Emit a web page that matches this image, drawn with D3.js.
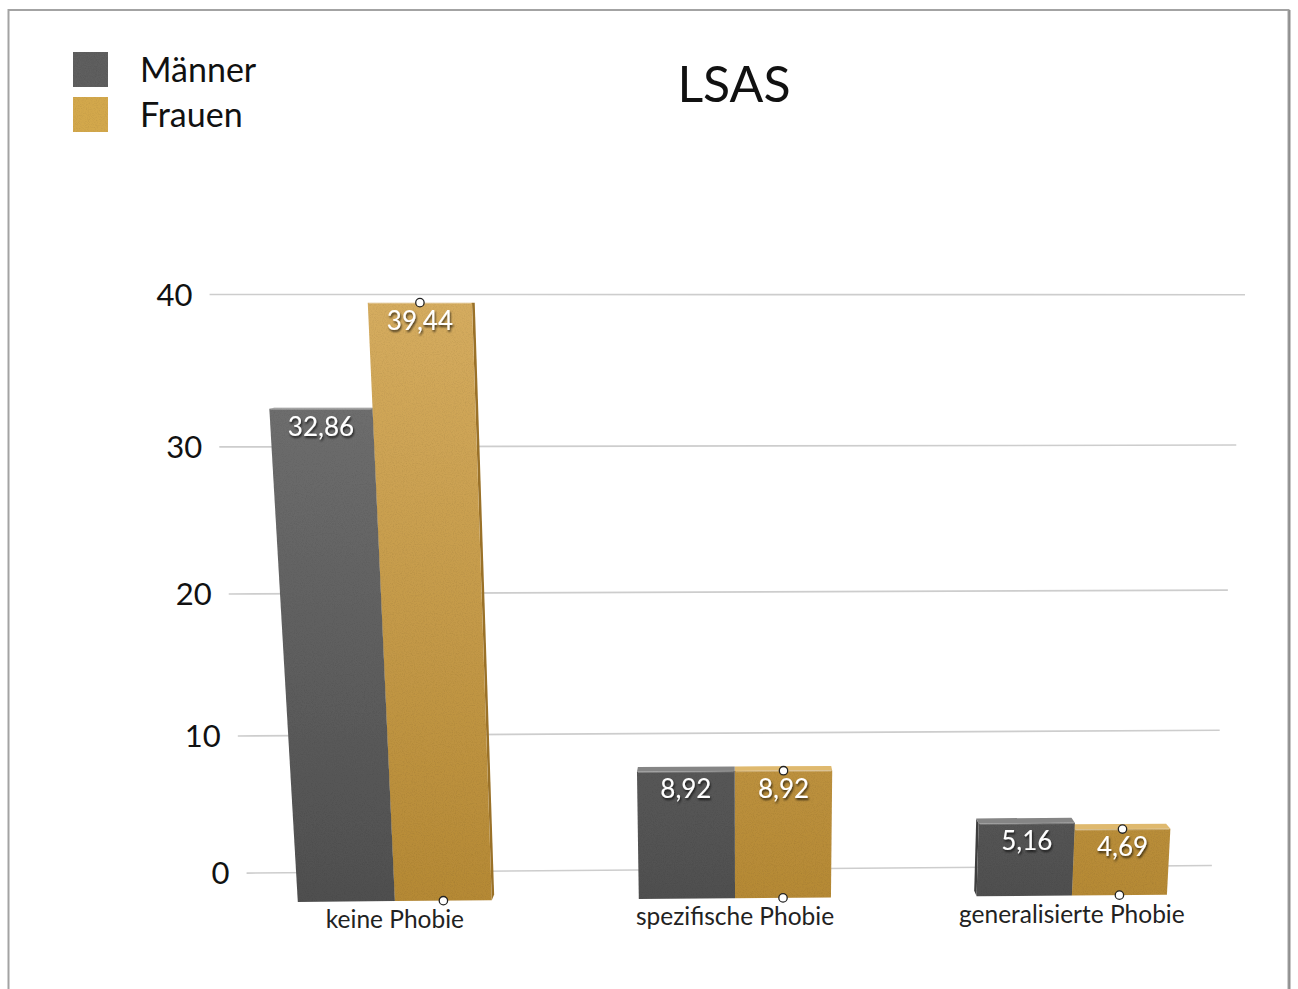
<!DOCTYPE html>
<html>
<head>
<meta charset="utf-8">
<script src="https://cdn.jsdelivr.net/npm/d3@7"></script>
<style>
  html, body { margin: 0; padding: 0; background: #fff; }
  svg { display: block; }
  text { font-family: Lato, "Open Sans", "DejaVu Sans", sans-serif; }
</style>
</head>
<body>
<svg id="chart" width="1298" height="989"></svg>
<script>
// ---- data ----
const categories = ["keine Phobie", "spezifische Phobie", "generalisierte Phobie"];
const seriesNames = ["Männer", "Frauen"];
const maenner = [32.86, 8.92, 5.16];
const frauen = [39.44, 8.92, 4.69];
const yTicks = [0, 10, 20, 30, 40];
const chartTitle = "LSAS";

const seriesValues = { "Männer": maenner, "Frauen": frauen };
const fmt = v => d3.format(".2f")(v).replace(".", ",");

// ---- perspective camera (world: X right, Y up, Z toward viewer; wall at Z = 0) ----
const cam = { f: 1226, cy: 494, pitch: Math.atan(0.148), yaw: -0.0174, dist: 1000, height: 475.6 };
const wallW = 833.4;
const frontZ = 53, backZ = 43;   // bar slab depth in front of the wall

const yScale = d3.scaleLinear().domain([0, 40]).range([0, 489.9]);
const xBand = d3.scaleBand().domain(categories).range([2, wallW + 2])
  .paddingInner(0.4323).paddingOuter(0.2162);
const xSeries = d3.scaleBand().domain(seriesNames).range([0, xBand.bandwidth()]);

const camX = wallW / 2;
const sp = Math.sin(cam.pitch), cp = Math.cos(cam.pitch);
const sw = Math.sin(cam.yaw), cw = Math.cos(cam.yaw);
const right = [cw, 0, -sw];
const up = [-sp * sw, cp, -sp * cw];
const fwd = [-cp * sw, -sp, -cp * cw];
const dot = (a, b) => a[0] * b[0] + a[1] * b[1] + a[2] * b[2];

function rawProject(p) {
  const d = [p[0] - camX, p[1] - cam.height, p[2] - cam.dist];
  const zc = dot(d, fwd);
  return [cam.f * dot(d, right) / zc, cam.cy - cam.f * dot(d, up) / zc];
}
// horizontal image position of the wall centre
const cx = 732.5 - rawProject([wallW / 2, 0, 0])[0];
const project = p => { const q = rawProject(p); return [q[0] + cx, q[1]]; };

// ---- svg ----
const svg = d3.select("#chart");
const defs = svg.append("defs");

const gradM = defs.append("linearGradient").attr("id", "gM")
  .attr("gradientUnits", "userSpaceOnUse").attr("x1", 0).attr("y1", 290).attr("x2", 0).attr("y2", 905);
gradM.append("stop").attr("offset", 0).attr("stop-color", "#757575");
gradM.append("stop").attr("offset", 1).attr("stop-color", "#4f4f4f");
const gradF = defs.append("linearGradient").attr("id", "gF")
  .attr("gradientUnits", "userSpaceOnUse").attr("x1", 0).attr("y1", 290).attr("x2", 0).attr("y2", 905);
gradF.append("stop").attr("offset", 0).attr("stop-color", "#d6ad60");
gradF.append("stop").attr("offset", 1).attr("stop-color", "#b58934");

const shadow = defs.append("filter").attr("id", "txtShadow")
  .attr("x", "-20%").attr("y", "-30%").attr("width", "140%").attr("height", "170%");
shadow.append("feDropShadow").attr("dx", 1).attr("dy", 2).attr("stdDeviation", 1.2)
  .attr("flood-color", "#000").attr("flood-opacity", 0.7);

const grain = defs.append("filter").attr("id", "grain").attr("x", 0).attr("y", 0).attr("width", "100%").attr("height", "100%");
grain.append("feTurbulence").attr("type", "fractalNoise").attr("baseFrequency", 0.9).attr("numOctaves", 2).attr("seed", 3).attr("result", "noise");
grain.append("feColorMatrix").attr("in", "noise").attr("type", "matrix")
  .attr("values", "0 0 0 0 0.5  0 0 0 0 0.5  0 0 0 0 0.5  0.6 0 0 0 -0.25").attr("result", "n2");
grain.append("feComposite").attr("in", "n2").attr("in2", "SourceGraphic").attr("operator", "in").attr("result", "n3");
grain.append("feBlend").attr("in", "SourceGraphic").attr("in2", "n3").attr("mode", "multiply");

const faceColors = {
  "Männer": { front: "url(#gM)", top: "#858585", side: "#3e3e3e" },
  "Frauen": { front: "url(#gF)", top: "#dfb96e", side: "#9a7128" }
};

// frame
svg.append("rect").attr("x", 8.5).attr("y", 10).attr("width", 1280).attr("height", 1000)
  .attr("fill", "none").attr("stroke", "#a3a3a3").attr("stroke-width", 2);
svg.append("line").attr("x1", 1289.5).attr("x2", 1289.5).attr("y1", 10).attr("y2", 989)
  .attr("stroke", "#8f8f8f").attr("stroke-width", 2);

// title
svg.append("text").attr("x", 734).attr("y", 102).attr("text-anchor", "middle")
  .attr("font-size", 50).attr("fill", "#111").text(chartTitle);

// legend
const legendColors = { "Männer": "#5e5e5e", "Frauen": "#d3a84c" };
const legend = svg.append("g").attr("transform", "translate(73,52)");
seriesNames.forEach((s, i) => {
  legend.append("rect").attr("x", 0).attr("y", i * 45).attr("width", 35).attr("height", 35)
    .attr("fill", legendColors[s]).attr("filter", "url(#grain)");
  legend.append("text").attr("x", 67).attr("y", i * 45 + 30).attr("font-size", 34)
    .attr("fill", "#111").text(s);
});

// wall gridlines and tick labels
const grid = svg.append("g");
yTicks.forEach(t => {
  const a = project([0, yScale(t), 0]);
  const b = project([wallW, yScale(t), 0]);
  grid.append("line").attr("x1", a[0]).attr("y1", a[1]).attr("x2", b[0]).attr("y2", b[1])
    .attr("stroke", "#cdcdcd").attr("stroke-width", 1.6);
  grid.append("text").attr("x", a[0] - 17).attr("y", a[1]).attr("dy", "0.36em")
    .attr("text-anchor", "end").attr("font-size", 31).attr("fill", "#111").text(t);
});

// bars
const bars = [];
categories.forEach((c, i) => {
  seriesNames.forEach(s => {
    const x0 = xBand(c) + xSeries(s), x1 = x0 + xSeries.bandwidth();
    bars.push({ c, s, v: seriesValues[s][i], x0, x1 });
  });
});
bars.sort((a, b) => Math.abs((b.x0 + b.x1) / 2 - camX) - Math.abs((a.x0 + a.x1) / 2 - camX));

const poly = pts => "M" + pts.map(p => project(p).join(",")).join("L") + "Z";
const barLayer = svg.append("g");
bars.forEach(d => {
  const y1 = yScale(d.v);
  const col = faceColors[d.s];
  const g = barLayer.append("g");
  if (d.x1 < camX) {
    g.append("path").attr("d", poly([[d.x1, 0, frontZ], [d.x1, y1, frontZ], [d.x1, y1, backZ], [d.x1, 0, backZ]]))
      .attr("fill", col.side);
  } else if (d.x0 > camX) {
    g.append("path").attr("d", poly([[d.x0, 0, frontZ], [d.x0, y1, frontZ], [d.x0, y1, backZ], [d.x0, 0, backZ]]))
      .attr("fill", col.side);
  }
  if (y1 < cam.height) {
    g.append("path").attr("d", poly([[d.x0, y1, frontZ], [d.x1, y1, frontZ], [d.x1, y1, backZ], [d.x0, y1, backZ]]))
      .attr("fill", col.top);
  }
  g.append("path").attr("d", poly([[d.x0, 0, frontZ], [d.x1, 0, frontZ], [d.x1, y1, frontZ], [d.x0, y1, frontZ]]))
    .attr("fill", col.front).attr("filter", "url(#grain)");
  // bevel highlight along the top edge
  const t0 = project([d.x0, y1, frontZ]), t1 = project([d.x1, y1, frontZ]);
  g.append("line").attr("x1", t0[0] + 1).attr("y1", t0[1] + 0.5).attr("x2", t1[0] - 1).attr("y2", t1[1] + 0.5)
    .attr("stroke", "#fff").attr("stroke-opacity", 0.25).attr("stroke-width", 1.5);
});

// value labels
bars.forEach(d => {
  const p = project([(d.x0 + d.x1) / 2, yScale(d.v), frontZ]);
  svg.append("text").attr("x", p[0]).attr("y", p[1] + 27).attr("text-anchor", "middle")
    .attr("font-size", 26).attr("fill", "#fff").attr("filter", "url(#txtShadow)").text(fmt(d.v));
});

// edit handles on the second series
bars.filter(d => d.s === "Frauen").forEach(d => {
  const xm = (d.x0 + d.x1) / 2;
  [project([xm, yScale(d.v), frontZ]), project([xm, 0, frontZ])].forEach(p => {
    svg.append("circle").attr("cx", p[0]).attr("cy", p[1]).attr("r", 4.2)
      .attr("fill", "#fff").attr("stroke", "#222").attr("stroke-width", 1.3);
  });
});

// category labels
categories.forEach(c => {
  const p = project([xBand(c) + xBand.bandwidth() / 2, 0, frontZ]);
  svg.append("text").attr("x", p[0]).attr("y", p[1] + 27).attr("text-anchor", "middle")
    .attr("font-size", 24.5).attr("fill", "#222").text(c);
});
</script>
</body>
</html>
